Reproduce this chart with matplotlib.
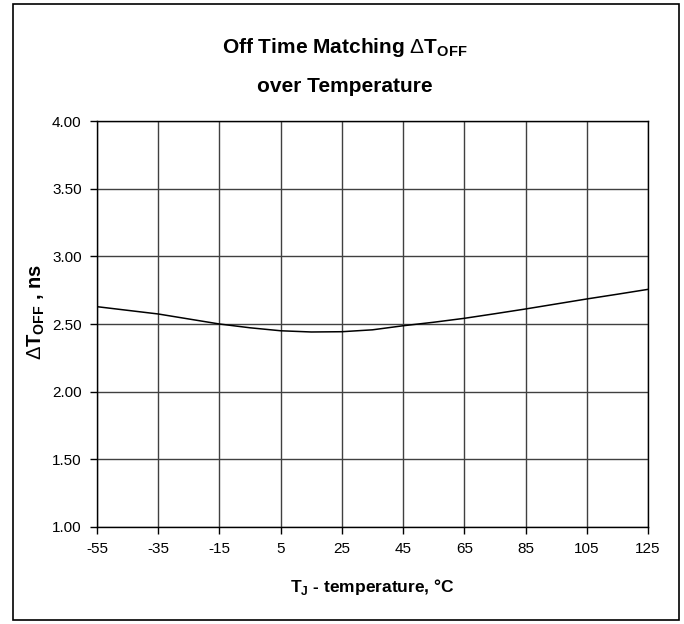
import matplotlib
matplotlib.use('Agg')
import matplotlib.pyplot as plt
from matplotlib.patches import Rectangle

plt.rcParams['font.family'] = ['Liberation Sans', 'DejaVu Sans']
plt.rcParams['axes.unicode_minus'] = False
plt.rcParams['mathtext.fontset'] = 'custom'
plt.rcParams['mathtext.rm'] = 'Liberation Sans'
plt.rcParams['mathtext.bf'] = 'Liberation Sans:bold'

# temperature (deg C) and off time matching (ns)
temp = [-55, -45, -35, -25, -15, -5, 5, 15, 25, 35, 45, 55, 65, 75, 85, 95, 105, 115, 125]
dtoff = [2.628, 2.601, 2.574, 2.537, 2.500, 2.472, 2.450, 2.441, 2.443, 2.457, 2.487, 2.513,
         2.542, 2.576, 2.611, 2.648, 2.685, 2.720, 2.756]

xticks = [-55, -35, -15, 5, 25, 45, 65, 85, 105, 125]
yticks = [1.00, 1.50, 2.00, 2.50, 3.00, 3.50, 4.00]

fig = plt.figure(figsize=(6.84, 6.24), dpi=100)
ax = fig.add_axes([97/684, 97/624, 551/684, 406/624])

ax.plot(temp, dtoff, color='black', lw=1.1, zorder=3)

ax.set_xlim(-55, 125)
ax.set_ylim(1.0, 4.0)
ax.set_xticks(xticks)
ax.set_yticks(yticks)
ax.set_yticklabels(['%.2f' % v for v in yticks])
ax.grid(True, color='#404040', lw=1.0)
ax.tick_params(direction='out', length=5, width=1, labelsize=11, pad=6)
for s in ax.spines.values():
    s.set_color('black')
    s.set_linewidth(1.0)

ax.set_xlabel(r'T$_\mathbf{J}$ - temperature, °C', fontsize=12.5, fontweight='bold', labelpad=15)
ax.set_ylabel(r'$\Delta$T$_\mathbf{OFF}$ , ns', fontsize=14.5, fontweight='bold')
ax.yaxis.set_label_coords(-0.09, 0.53)

fig.text(345/684, 1 - 53/624, r'Off Time Matching $\Delta$T$_\mathbf{OFF}$', ha='center',
         va='baseline', fontsize=15, fontweight='bold')
fig.text(345/684, 1 - 92/624, 'over Temperature', ha='center', va='baseline',
         fontsize=15, fontweight='bold')

fig.patches.append(Rectangle((13/684, 4/624), 666/684, 616/624, transform=fig.transFigure,
                             fill=False, edgecolor='black', lw=1.2))

fig.savefig('out.png', dpi=100)
